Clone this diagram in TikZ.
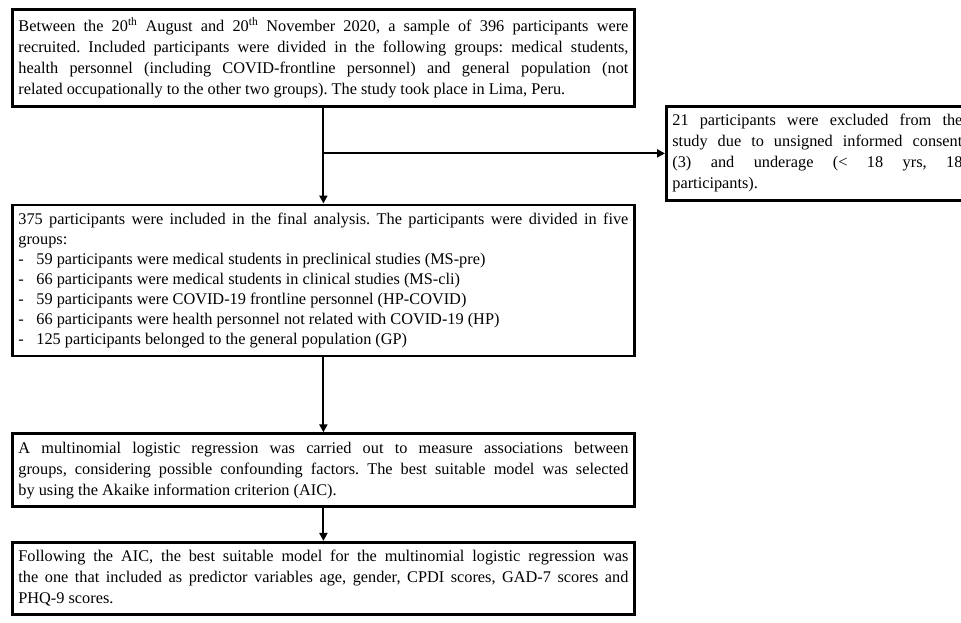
\documentclass[tikz,border=0pt]{standalone}
\usepackage{fontspec}
\setmainfont{Liberation Serif}
\usetikzlibrary{positioning,arrows.meta}

\begin{document}
\begin{tikzpicture}[x=1pt, y=-1pt, node distance=96pt,
                    main node/.style={draw, line width=2.8pt, inner xsep=6pt, inner ysep=8pt, text width=610pt,
                                      align=justify, font=\fontsize{16.3}{21}\selectfont\frenchspacing},
                    side node/.style={main node, text width=290pt}]

   \useasboundingbox (0,0) rectangle (961,623);

   \node[main node, anchor=north west] (1) at (11,8)
     {Between the 20\textsuperscript{th} August and 20\textsuperscript{th} November 2020, a sample of 396 participants were\linebreak
      recruited. Included participants were divided in the following groups: medical students,\linebreak
      health personnel (including COVID-frontline personnel) and general population (not\linebreak
      related occupationally to the other two groups). The study took place in Lima, Peru.};
   \node[main node, font=\fontsize{16.3}{20}\selectfont\frenchspacing] (3) [below=of 1]
     {375 participants were included in the final analysis. The participants were divided in five\linebreak
      groups:\\
      \makebox[18pt][l]{-}59 participants were medical students in preclinical studies (MS-pre)\\
      \makebox[18pt][l]{-}66 participants were medical students in clinical studies (MS-cli)\\
      \makebox[18pt][l]{-}59 participants were COVID-19 frontline personnel (HP-COVID)\\
      \makebox[18pt][l]{-}66 participants were health personnel not related with COVID-19 (HP)\\
      \makebox[18pt][l]{-}125 participants belonged to the general population (GP)};
   \node[main node] (4) [below=75pt of 3]
     {A multinomial logistic regression was carried out to measure associations between\linebreak
      groups, considering possible confounding factors. The best suitable model was selected\linebreak
      by using the Akaike information criterion (AIC).};
   \node[main node] (5) [below=33pt of 4]
     {Following the AIC, the best suitable model for the multinomial logistic regression was\linebreak
      the one that included as predictor variables age, gender, CPDI scores, GAD-7 scores and\linebreak
      PHQ-9 scores.};
   \node[side node, anchor=north west] (2) at (665,105)
     {21 participants were excluded from the\linebreak
      study due to unsigned informed consent\linebreak
      (3) and underage (< 18 yrs, 18\linebreak
      participants).};

   \coordinate (split) at (1.south |- 2.west);

  \path[every edge/.style={draw, line width=2pt, -{Triangle[length=8pt,width=8pt]}}]
    (1) edge (3)
    (3) edge (4)
    (4) edge (5)
    (split) edge (2)
       ;

\end{tikzpicture}
\end{document}
